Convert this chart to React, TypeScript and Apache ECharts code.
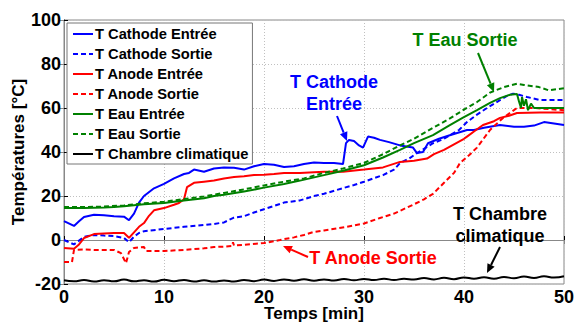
import React, { useEffect, useRef } from "react";
import * as echarts from "echarts";

const seriesNames = [
  "T Cathode Entrée",
  "T Cathode Sortie",
  "T Anode Entrée",
  "T Anode Sortie",
  "T Eau Entrée",
  "T Eau Sortie",
  "T Chambre climatique",
];

const xTicks = [0, 10, 20, 30, 40, 50];
const yTicks = [-20, 0, 20, 40, 60, 80, 100];

const cathodeEntree: number[][] = [
  [0, 8.6], [1, 6.4], [1.5, 8.5], [2, 10.5], [3, 11.5], [4, 11.2], [5, 10.8], [6, 10.6], [6.5, 9],
  [7, 12], [7.5, 17], [8, 20], [9, 23.5], [10, 25.5], [11, 28], [12, 30], [12.5, 30.5], [13, 32],
  [14, 31], [15, 32.5], [16, 33], [17, 32.8], [18, 32], [19, 33.5], [20, 34.5], [21, 34.2], [22, 33.2],
  [23, 33.5], [24, 34.5], [25, 35.2], [26, 35], [27, 35], [27.9, 34.5], [28.2, 44], [28.5, 45.5],
  [29, 45], [29.5, 43], [29.9, 42], [30.4, 47], [31, 46.5], [31.6, 45.5], [32.5, 44.5], [33.6, 43],
  [34.9, 42], [35.3, 39.5], [35.9, 40], [36.4, 44], [37.5, 46], [38.5, 47.5], [40.3, 50], [41, 50],
  [42, 51], [43.6, 52.3], [45, 51.5], [46, 51.5], [47, 52], [48, 53.6], [49, 53], [50, 52.3],
];

const cathodeSortie: number[][] = [
  [0, 0], [1, -2], [2, 1.4], [3, 2.3], [4, 2], [5, 1.8], [6, 0.9], [6.5, -1], [7, 1.5], [7.5, 3.2],
  [8, 4], [10, 5], [12, 6], [14, 6.8], [15, 7.3], [16, 8], [17, 10.2], [18, 10.8], [19, 12.5], [20, 14],
  [21, 15.5], [22, 17], [23.6, 18], [25, 20], [26, 21], [27.9, 23.6], [29, 25], [30, 26.5], [31.9, 29.5],
  [33, 32], [33.6, 35], [34.5, 37], [35.3, 39.5], [36.2, 42], [36.9, 44], [38, 46], [38.6, 47.7],
  [39.5, 50], [40.3, 53.6], [41.3, 57], [42.3, 60], [43.6, 63.6], [44.3, 65.5], [44.9, 66.5], [45.5, 66],
  [46.3, 65], [47.6, 63.6], [49, 63.6], [50, 63.6],
];

const anodeEntree: number[][] = [
  [0, -3.6], [1, -4], [1.5, -2], [2, 0.9], [3, 2.7], [4, 3], [5, 3.2], [6, 3.2], [6.5, 1], [7, 3.5],
  [7.5, 6], [8, 7.7], [8.5, 11], [9, 13.5], [10, 14.5], [11, 16], [11.5, 16.8], [12, 18.5], [12.3, 24],
  [13, 26], [14, 26.5], [15, 27], [16, 28], [17, 28.6], [18, 29], [19, 29.5], [20, 29.7], [21, 30],
  [22, 30.5], [23.6, 30.5], [25, 30.8], [26, 31], [27.9, 31], [30, 32], [31.9, 33], [33.6, 35.5],
  [35, 36], [36.3, 37], [37, 39], [38, 41], [39, 43.5], [40, 46], [40.3, 47], [41.2, 50], [41.9, 52.3],
  [43, 54], [43.6, 55.5], [44.5, 56.5], [45.3, 57.7], [47.6, 58], [50, 58],
];

const anodeSortie: number[][] = [
  [0, -10], [0.8, -10], [1, -4.5], [2, -4.3], [3, -4.5], [4, -4.5], [5, -4.5], [5.7, -6], [6.2, -10.5],
  [6.5, -5.5], [7, -3.6], [8, -3.2], [8.2, -5], [10, -5], [12, -4.5], [14, -3.8], [15, -3.2], [16, -3],
  [16.8, -2.7], [16.9, -1], [17, -2.5], [18, -2.2], [20, -1.4], [21.6, 0], [22, 0.4], [23, 1.2],
  [24, 2.3], [24.9, 3.6], [26, 4.3], [28.3, 6], [30, 7.5], [31.6, 10], [33, 12], [34.9, 16], [36, 18.5],
  [36.9, 21], [38, 26], [39, 30.5], [39.6, 35], [40.5, 38.5], [41.3, 42], [42.6, 50], [43.9, 55.5],
  [45.3, 60], [47, 60], [48.5, 59.5], [50, 59],
];

const eauEntree: number[][] = [
  [0, 14.5], [2, 14.6], [4, 14.8], [5, 15], [6, 15.3], [8, 16.2], [10, 16.8], [12, 18], [14, 19],
  [15, 20], [16, 20.6], [18, 22], [20, 23.8], [22, 25.5], [23.6, 27], [26, 29.5], [27.9, 31.5],
  [30, 34], [31.9, 37.5], [33.6, 41], [35, 44], [36.9, 47.7], [38.5, 52], [39.9, 55.6], [41.3, 59],
  [42.6, 62.3], [43.6, 64.5], [44.6, 66], [45.3, 66.4], [45.5, 63], [45.7, 60], [45.8, 65], [46, 61],
  [46.2, 64], [46.4, 59], [46.7, 62], [47, 60], [48, 60], [50, 60],
];

const eauSortie: number[][] = [
  [0, 15], [2, 15], [4, 15.2], [6, 15.7], [8, 16.7], [10, 17.4], [12, 18.6], [14, 19.8], [16, 21.4],
  [18, 23], [20, 24.8], [22, 26.5], [24, 28], [26, 30.5], [27.9, 32.5], [30, 35], [31.9, 39],
  [33.6, 43], [35, 46], [36.9, 51], [38.5, 55], [39.9, 59], [41.3, 62.7], [42.6, 67], [44, 69.5],
  [45.3, 71], [46, 70.5], [47.5, 69.5], [48.5, 68], [49.2, 68.5], [50, 69],
];

const chambre: number[][] = [
  [0, -18.3], [1, -18.8], [2, -18.2], [3, -18.9], [4, -18.3], [5, -18.8], [6, -18.0], [7, -18.8],
  [8, -18.3], [9, -18.9], [10, -18.1], [11, -18.7], [12, -18.2], [13, -18.9], [14, -18.3], [15, -18.9],
  [16, -18.4], [17, -18.9], [18, -18.2], [19, -18.7], [20, -18.0], [21, -18.6], [22, -17.9], [23, -18.5],
  [24, -17.8], [25, -18.5], [26, -17.9], [27, -18.4], [28, -17.7], [29, -18.3], [30, -17.7], [31, -18.2],
  [32, -17.6], [33, -18.2], [34, -17.6], [35, -18.0], [36, -17.3], [37, -17.9], [38, -17.2], [39, -17.8],
  [40, -17.0], [41, -17.6], [42, -16.9], [43, -17.6], [44, -16.8], [45, -17.4], [46, -16.6], [47, -17.3],
  [48, -16.5], [49, -17.1], [50, -16.5],
];

const seriesData = [cathodeEntree, cathodeSortie, anodeEntree, anodeSortie, eauEntree, eauSortie, chambre];
const seriesColors = ["#0000ff", "#0000ff", "#ff0000", "#ff0000", "#008000", "#008000", "#000000"];
const seriesDashed = [false, true, false, true, false, true, false];

const FONT = "'Liberation Sans', Arial, Helvetica, sans-serif";

function arrow(x1: number, y1: number, x2: number, y2: number, color: string) {
  const dx = x2 - x1;
  const dy = y2 - y1;
  const L = Math.hypot(dx, dy);
  const ux = dx / L;
  const uy = dy / L;
  const hl = 9;
  const hw = 4;
  const bx = x2 - ux * hl;
  const by = y2 - uy * hl;
  const px = -uy;
  const py = ux;
  return [
    { type: "line", z: 100, shape: { x1, y1, x2: bx, y2: by }, style: { stroke: color, lineWidth: 2 } },
    {
      type: "polygon",
      z: 100,
      shape: { points: [[x2, y2], [bx + px * hw, by + py * hw], [bx - px * hw, by - py * hw]] },
      style: { fill: color },
    },
  ];
}

function label(text: string, x: number, y: number, color: string) {
  return {
    type: "text",
    z: 100,
    x,
    y,
    style: {
      text,
      fill: color,
      font: `bold 18px ${FONT}`,
      align: "center",
      verticalAlign: "middle",
      textAlign: "center",
      textVerticalAlign: "middle",
    },
  };
}

export default function App() {
  const ref = useRef<HTMLDivElement>(null);
  useEffect(() => {
    if (!ref.current) return;
    const chart = echarts.init(ref.current, undefined, { renderer: "svg" });
    const series = seriesNames.map((name, i) => ({
      name,
      type: "line",
      data: seriesData[i],
      showSymbol: false,
      symbol: "none",
      smooth: i === 6 ? 0.5 : false,
      color: seriesColors[i],
      lineStyle: {
        color: seriesColors[i],
        width: 2,
        type: seriesDashed[i] ? [5, 3] : "solid",
      },
      z: 3,
    }));
    chart.setOption({
      animation: false,
      backgroundColor: "#ffffff",
      textStyle: { fontFamily: FONT },
      grid: {
        left: 64,
        right: 10,
        top: 20,
        bottom: 38,
        show: true,
        borderColor: "#888888",
        borderWidth: 1,
        containLabel: false,
        outerBoundsMode: "none",
      },
      legend: {
        orient: "vertical",
        left: 67,
        top: 23,
        data: seriesNames,
        backgroundColor: "#ffffff",
        borderColor: "#777777",
        borderWidth: 1,
        borderRadius: 0,
        padding: [1, 4, 0, 5],
        itemGap: 0,
        itemWidth: 20,
        itemHeight: 20,
        itemStyle: { opacity: 0 },
        lineStyle: { width: 2 },
        selectedMode: false,
        textStyle: { fontFamily: FONT, fontWeight: "bold", fontSize: 14.7, color: "#000", lineHeight: 20, padding: [0, 0, 0, -3] },
        z: 10,
      },
      xAxis: [
        {
          type: "value",
          min: xTicks[0],
          max: xTicks[xTicks.length - 1],
          interval: 10,
          name: "Temps [min]",
          nameLocation: "middle",
          nameGap: 21,
          nameMoveOverlap: false,
          nameTextStyle: { fontFamily: FONT, fontWeight: "bold", fontSize: 17, color: "#000" },
          axisLine: { show: true, lineStyle: { color: "#000", width: 1 } },
          axisTick: { show: true, inside: true, length: 4, lineStyle: { color: "#000" } },
          axisLabel: { fontFamily: FONT, fontWeight: "bold", fontSize: 18, color: "#000", margin: 4 },
          splitLine: { show: true, lineStyle: { color: "#c0c0c0", type: [1, 2], width: 1 } },
        },
        {
          type: "value",
          position: "top",
          min: xTicks[0],
          max: xTicks[xTicks.length - 1],
          interval: 10,
          axisLine: { show: true, lineStyle: { color: "#888", width: 1 } },
          axisTick: { show: true, inside: true, length: 4, lineStyle: { color: "#888" } },
          axisLabel: { show: false },
          splitLine: { show: false },
        },
      ],
      yAxis: [
        {
          type: "value",
          min: yTicks[0],
          max: yTicks[yTicks.length - 1],
          interval: 20,
          name: "Températures [°C]",
          nameLocation: "middle",
          nameGap: 37,
          nameMoveOverlap: false,
          nameRotate: 90,
          nameTextStyle: { fontFamily: FONT, fontWeight: "bold", fontSize: 17, color: "#000" },
          axisLine: { show: true, lineStyle: { color: "#000", width: 1 } },
          axisTick: { show: true, inside: true, length: 4, lineStyle: { color: "#000" } },
          axisLabel: { fontFamily: FONT, fontWeight: "bold", fontSize: 18, color: "#000", margin: 3 },
          splitLine: { show: true, lineStyle: { color: "#c0c0c0", type: [1, 2], width: 1 } },
        },
        {
          type: "value",
          position: "right",
          min: yTicks[0],
          max: yTicks[yTicks.length - 1],
          interval: 20,
          axisLine: { show: true, lineStyle: { color: "#888", width: 1 } },
          axisTick: { show: true, inside: true, length: 4, lineStyle: { color: "#888" } },
          axisLabel: { show: false },
          splitLine: { show: false },
        },
      ],
      series,
      graphic: [
        label("T Cathode", 334, 82, "#0000ff"),
        label("Entrée", 334, 104, "#0000ff"),
        ...arrow(337, 116, 347, 141, "#0000ff"),
        label("T Eau Sortie", 465, 40, "#008000"),
        ...arrow(478, 53, 494, 92, "#008000"),
        label("T Anode Sortie", 373, 258, "#ff0000"),
        ...arrow(308, 257, 283, 246, "#ff0000"),
        label("T Chambre", 500, 214, "#000000"),
        label("climatique", 500, 236, "#000000"),
        ...arrow(500, 247, 487, 273, "#000000"),
      ],
    });
    return () => chart.dispose();
  }, []);
  return (
    <div
      ref={ref}
      style={{ position: "absolute", left: 0, top: 0, width: 574, height: 322 }}
    />
  );
}
